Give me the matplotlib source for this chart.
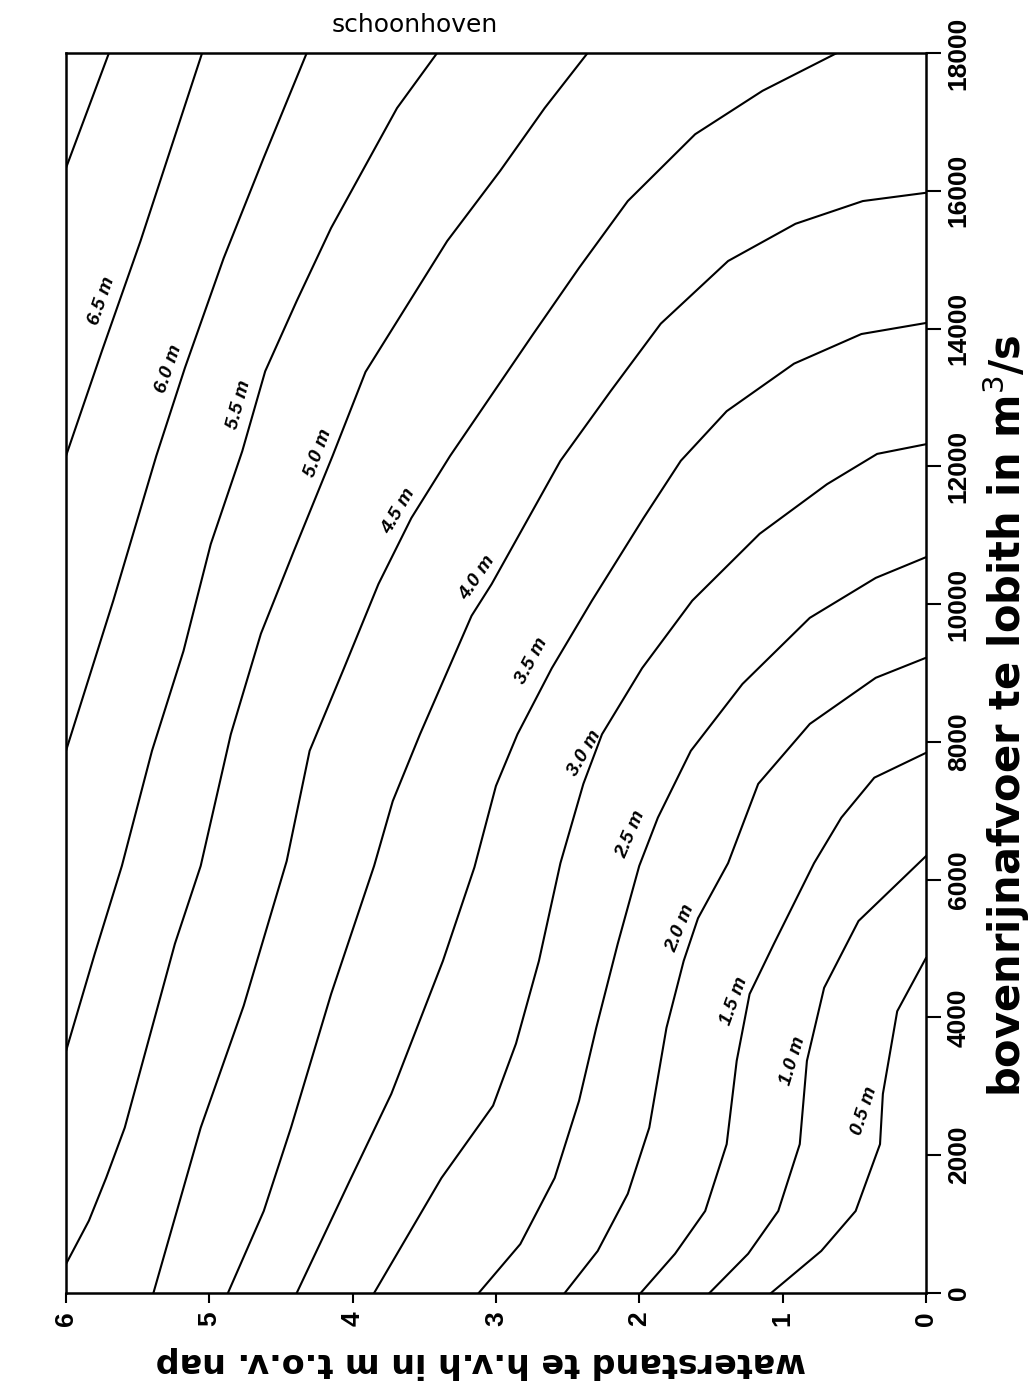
import matplotlib.pyplot as plt

plt.rcParams['font.family'] = ['Liberation Sans', 'DejaVu Sans']

# waterstand te hoek van holland (m) and bovenrijnafvoer (m3/s) along each
# schoonhoven water level line
h_05 = [1.08, 0.73, 0.49, 0.32, 0.30, 0.20, 0.0]
q_05 = [0, 610, 1190, 2160, 2890, 4090, 4860]

h_10 = [1.51, 1.24, 1.03, 0.88, 0.83, 0.71, 0.47, 0.0]
q_10 = [0, 570, 1190, 2160, 3370, 4430, 5400, 6340]

h_15 = [1.99, 1.75, 1.54, 1.39, 1.32, 1.23, 1.06, 0.78, 0.59, 0.36, 0.0]
q_15 = [0, 570, 1190, 2160, 3370, 4340, 5070, 6240, 6900, 7480, 7840]

h_20 = [2.52, 2.29, 2.08, 1.93, 1.81, 1.69, 1.59, 1.38, 1.17, 0.81, 0.35, 0.0]
q_20 = [0, 610, 1440, 2400, 3850, 4820, 5440, 6240, 7390, 8260, 8930, 9220]

h_25 = [3.12, 2.83, 2.59, 2.42, 2.30, 2.15, 2.00, 1.87, 1.64, 1.28, 0.81, 0.35, 0.0]
q_25 = [0, 710, 1670, 2790, 3850, 5070, 6200, 6900, 7870, 8840, 9800, 10380, 10680]

h_30 = [3.85, 3.38, 3.02, 2.86, 2.70, 2.55, 2.39, 2.26, 1.98, 1.63, 1.16, 0.69, 0.34, 0.0]
q_30 = [0, 1670, 2720, 3620, 4820, 6240, 7390, 8110, 9070, 10050, 11020, 11740, 12180, 12320]

h_35 = [4.39, 4.02, 3.73, 3.37, 3.15, 3.00, 2.85, 2.61, 2.33, 1.97, 1.71, 1.39, 0.92, 0.45, 0.0]
q_35 = [0, 1630, 2890, 4820, 6180, 7360, 8110, 9070, 10050, 11250, 12080, 12800, 13490, 13920, 14080]

h_40 = [4.87, 4.62, 4.43, 4.15, 3.85, 3.72, 3.53, 3.17, 3.03, 2.55, 2.20, 1.85, 1.38, 0.91, 0.44, 0.0]
q_40 = [0, 1190, 2400, 4340, 6200, 7140, 8110, 9830, 10290, 12080, 13090, 14070, 14980, 15520, 15850, 15970]

h_45 = [5.39, 5.06, 4.76, 4.46, 4.30, 4.06, 3.82, 3.59, 3.32, 2.74, 2.42, 2.08, 1.61, 1.14, 0.62]
q_45 = [0, 2400, 4170, 6270, 7870, 9070, 10290, 11250, 12150, 13920, 14880, 15850, 16820, 17450, 18000]

h_50 = [6.0, 5.84, 5.72, 5.59, 5.43, 5.24, 5.06, 4.85, 4.64, 4.41, 4.14, 3.91, 3.70, 3.34, 2.97, 2.66, 2.36]
q_50 = [420, 1050, 1670, 2400, 3620, 5070, 6200, 8110, 9570, 10770, 12150, 13370, 14070, 15270, 16290, 17200, 18000]

h_55 = [6.0, 5.80, 5.61, 5.40, 5.18, 4.99, 4.77, 4.61, 4.39, 4.15, 3.92, 3.69, 3.41]
q_55 = [3510, 4920, 6200, 7870, 9320, 10870, 12220, 13380, 14400, 15460, 16330, 17200, 18000]

h_60 = [6.0, 5.67, 5.37, 5.17, 4.90, 4.62, 4.32]
q_60 = [7870, 10050, 12150, 13430, 15020, 16480, 18000]

h_65 = [6.0, 5.75, 5.48, 5.05]
q_65 = [12150, 13670, 15270, 18000]

h_70 = [6.0, 5.70]
q_70 = [16330, 18000]

lines_h = [h_05, h_10, h_15, h_20, h_25, h_30, h_35, h_40, h_45, h_50, h_55, h_60, h_65, h_70]
lines_q = [q_05, q_10, q_15, q_20, q_25, q_30, q_35, q_40, q_45, q_50, q_55, q_60, q_65, q_70]

# labels written beside the lines
label_text = ['0.5 m', '1.0 m', '1.5 m', '2.0 m', '2.5 m', '3.0 m', '3.5 m',
              '4.0 m', '4.5 m', '5.0 m', '5.5 m', '6.0 m', '6.5 m']
label_h = [0.43, 0.93, 1.34, 1.71, 2.06, 2.38, 2.75, 3.13, 3.68, 4.24, 4.79, 5.28, 5.75]
label_q = [2640, 3370, 4240, 5300, 6660, 7840, 9170, 10380, 11350, 12190, 12900, 13410, 14400]
label_rot = [72, 73, 70, 68, 67, 60, 62, 56, 60, 70, 75, 71, 71]

h_ticks = [0, 1, 2, 3, 4, 5, 6]
q_ticks = [0, 2000, 4000, 6000, 8000, 10000, 12000, 14000, 16000, 18000]

fig = plt.figure(figsize=(10.36, 13.86), dpi=100)
ax = fig.add_axes([0.0637, 0.0671, 0.830, 0.8947])

for h, q in zip(lines_h, lines_q):
    ax.plot(h, q, color='black', lw=1.5)

for t, h, q, r in zip(label_text, label_h, label_q, label_rot):
    ax.text(h, q, t, rotation=r, rotation_mode='anchor', ha='center', va='center',
            fontsize=14, fontstyle='italic', fontweight='bold')

ax.set_xlim(6, 0)
ax.set_ylim(0, 18000)
ax.set_xticks(h_ticks)
ax.set_yticks(q_ticks)
ax.yaxis.tick_right()
ax.tick_params(axis='y', direction='out', length=11, width=1.5, pad=4,
               labelsize=19, labelrotation=90)
ax.tick_params(axis='x', direction='out', length=7, width=1.5, pad=6,
               labelsize=19, labelrotation=90)
for lab in ax.get_yticklabels() + ax.get_xticklabels():
    lab.set_fontweight('bold')
for lab in ax.get_yticklabels():
    lab.set_va('center')
for s in ax.spines.values():
    s.set_linewidth(1.8)

fig.text(0.40, 0.982, 'schoonhoven', fontsize=18, family='DejaVu Sans',
         ha='center', va='center')
fig.text(0.971, 0.484, 'bovenrijnafvoer te lobith in m$^3$/s', rotation=90,
         fontsize=30, family='DejaVu Sans', fontweight='bold', ha='center', va='center')
fig.text(0.464, 0.0173, 'waterstand te h.v.h in m t.o.v. nap', rotation=180,
         fontsize=24, family='DejaVu Sans', fontweight='bold', ha='center', va='center')

fig.savefig('out.png', dpi=100)
